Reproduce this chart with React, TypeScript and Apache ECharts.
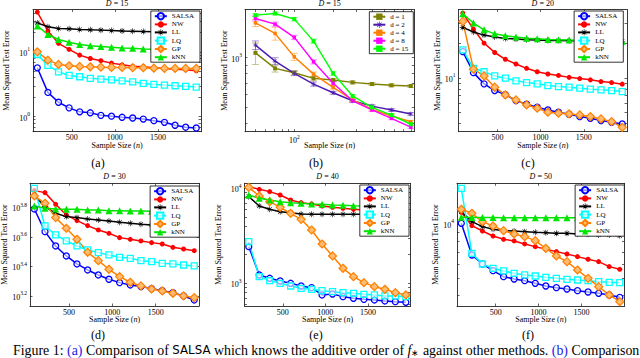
import { useEffect, useRef } from 'react';
import * as echarts from 'echarts';

const FONT = "'Liberation Serif', 'Times New Roman', serif";

// ---------------- data ----------------
const sampleSizes = [100, 223, 346, 469, 592, 715, 838, 961, 1084, 1207, 1330, 1453, 1576, 1699, 1822, 1945];
const methodNames = ['SALSA', 'NW', 'LL', 'LQ', 'GP', 'kNN'];

// (a) D = 15
const aSALSA = [5.67, 2.37, 1.67, 1.37, 1.19, 1.15, 1.05, 1.02, 0.98, 0.955, 0.92, 0.87, 0.82, 0.74, 0.69, 0.67];
const aNW = [41, 21, 13.5, 10.9, 8.9, 7.9, 7.3, 6.7, 6.3, 6.0, 5.9, 5.7, 5.55, 5.4, 5.3, 5.1];
const aLL = [27.9, 24.3, 22.9, 22.6, 22.1, 21.8, 21.6, 21.3, 21.0, 20.8, 20.6, 20.4, 20.3, 20.1, 20.0, 19.9];
const aLQ = [9.1, 6.18, 4.92, 4.33, 4.13, 3.9, 3.8, 3.7, 3.58, 3.45, 3.26, 3.15, 3.07, 3.0, 2.94, 2.86];
const aGP = [10.0, 7.45, 6.4, 6.1, 5.96, 5.88, 5.8, 5.75, 5.75, 5.68, 5.68, 5.6, 5.55, 5.55, 5.55, 5.55];
const aKNN = [25.1, 18.5, 15.5, 14.0, 13.0, 12.4, 12.1, 11.8, 11.5, 11.4, 11.1, 11.0, 10.9, 10.7, 10.7, 10.6];

// (b) D = 15, SALSA with different orders d
const bSizes = [50, 71, 100, 141, 200, 283, 400, 566, 800];
const bNames = ['d = 1', 'd = 2', 'd = 4', 'd = 8', 'd = 15'];
const bD1 = [1069, 860, 809, 748, 731, 707, 691, 679, 672];
const bD2 = [1191, 952, 802, 691, 612, 547, 508, 481, 455];
const bD4 = [1625, 1402, 1011, 794, 660, 553, 485, 442, 408];
const bD8 = [1728, 1596, 1326, 943, 698, 547, 481, 428, 378];
const bD15 = [1810, 1853, 1712, 1259, 802, 585, 499, 448, 394];
// relative half-widths of the error bars
const bErr1 = [0.15, 0.05, 0.03, 0.025, 0.02, 0.02, 0.02, 0.02, 0.02];
const bErr2 = [0.06, 0.05, 0.03, 0.03, 0.02, 0.02, 0.02, 0.02, 0.02];
const bErr4 = [0.05, 0.09, 0.05, 0.03, 0.025, 0.02, 0.02, 0.02, 0.02];
const bErr8 = [0.035, 0.03, 0.03, 0.03, 0.025, 0.02, 0.02, 0.02, 0.02];
const bErr15 = [0.02, 0.02, 0.025, 0.03, 0.03, 0.02, 0.02, 0.02, 0.02];

// (c) D = 20
const cSALSA = [16.9, 11.1, 8.87, 7.76, 7.16, 6.35, 5.91, 5.56, 5.27, 5.03, 4.83, 4.61, 4.46, 4.26, 4.12, 3.98];
const cNW = [36.5, 26.5, 20.0, 16.6, 14.5, 13.2, 12.1, 11.3, 10.8, 10.5, 10.1, 9.86, 9.61, 9.29, 9.1, 8.82];
const cLL = [27.4, 25.0, 23.5, 22.6, 22.0, 21.7, 21.4, 21.3, 21.1, 21.1, 21.0, 21.0, 20.9, 20.9, 20.8, 20.8];
const cLQ = [17.5, 12.1, 11.3, 10.4, 9.94, 9.42, 9.1, 8.87, 8.57, 8.4, 8.3, 8.14, 7.98, 7.87, 7.76, 7.6];
const cGP = [30.9, 11.9, 10.4, 8.3, 7.11, 6.44, 5.82, 5.45, 5.03, 4.93, 4.86, 4.77, 4.61, 4.4, 4.17, 3.72];
const cKNN = [36.0, 29.9, 26.1, 24.1, 23.2, 22.6, 22.1, 21.8, 21.5, 21.4, 21.3, 21.1, 21.0, 20.9, 20.9, 20.8];

// (d) D = 30
const dSALSA = [6148, 4318, 3454, 2956, 2609, 2376, 2198, 2055, 1951, 1881, 1833, 1777, 1722, 1669, 1585, 1489];
const dNW = [8180, 7930, 6612, 5600, 5127, 4742, 4433, 4207, 3933, 3832, 3734, 3638, 3563, 3382, 3296, 3209];
const dLL = [7568, 6375, 5747, 5456, 5373, 5260, 5180, 5100, 4995, 4918, 4842, 4791, 4741, 4718, 4669, 4646];
const dLQ = [8484, 4718, 4100, 3734, 3454, 3246, 3113, 3002, 2895, 2850, 2748, 2706, 2636, 2609, 2568, 2529];
const dGP = [7528, 6716, 5373, 4550, 3832, 3130, 2748, 2401, 2142, 1961, 1852, 1767, 1713, 1652, 1585, 1544];
const dKNN = [6442, 6210, 6148, 6115, 6115, 6053, 6053, 5989, 5989, 5958, 5958, 5927, 5927, 5900, 5900, 5880];

// (e) D = 40
const eSALSA = [2432, 1224, 1129, 1058, 1000, 937, 900, 754, 772, 724, 695, 678, 668, 652, 641, 631];
const eNW = [10411, 9761, 9225, 8508, 7539, 7066, 6842, 6517, 6310, 6159, 6011, 5915, 5850, 5800, 5750, 5700];
const eLL = [8171, 6517, 6011, 5680, 5545, 5369, 5324, 5324, 5324, 5324, 5324, 5324, 5300, 5300, 5300, 5300];
const eLQ = [2745, 1175, 1067, 1000, 937, 886, 865, 837, 817, 797, 785, 766, 754, 736, 736, 724];
const eGP = [10245, 8304, 7238, 6310, 5456, 4718, 3642, 2594, 1940, 1439, 1175, 1016, 922, 865, 797, 754];
const eKNN = [8508, 7846, 7539, 7238, 7066, 6952, 6842, 6787, 6677, 6624, 6570, 6517, 6500, 6480, 6460, 6450];

// (f) D = 50
const fSALSA = [10085, 6725, 5995, 5505, 5098, 4948, 4843, 4682, 4525, 4430, 4355, 4263, 4191, 4120, 4033, 3914];
const fNW = [11610, 9789, 9143, 8577, 8219, 8047, 7744, 7484, 7234, 7022, 6814, 6585, 6366, 6178, 5794, 5600];
const fLL = [11708, 10303, 9665, 9341, 9183, 9143, 9066, 8988, 8950, 8873, 8873, 8798, 8761, 8687, 8687, 8613];
const fLQ = [15783, 6871, 5995, 5672, 5483, 5321, 5209, 5142, 5055, 4991, 4927, 4885, 4843, 4781, 4741, 4721];
const fGP = [12063, 11463, 10303, 9748, 9183, 8798, 8503, 8078, 7324, 6641, 6178, 5552, 4991, 4487, 4033, 3703];
const fKNN = [10900, 10870, 10850, 10850, 10840, 10840, 10840, 10830, 10830, 10830, 10830, 10820, 10820, 10820, 10820, 10820];

// tick labels
const panelTitleD = ['15', '15', '20', '30', '40', '50'];
const panelLetters = ['(a)', '(b)', '(c)', '(d)', '(e)', '(f)'];
const linearTickValues = [500, 1000, 1500];
const yLabelExponents = [[0, 1], [3], [1], [3.2, 3.4, 3.6, 3.8], [3, 4], [4]];
const bXLabelExponents = [2];

// ---------------- layout / styles ----------------
const layout = [
  { left: 33, top: 9.5, width: 168, height: 122.2, yMin: 0.588, yMax: 44.9, legRight: 440, legTop: 11 },
  { left: 245, top: 9.5, width: 169.3, height: 122.2, yMin: 355, yMax: 1959, legRight: 226.7, legTop: 11.7 },
  { left: 458.5, top: 9.5, width: 168.5, height: 122.2, yMin: 3.41, yMax: 39.2, legRight: 16.7, legTop: 11 },
  { left: 30, top: 183.3, width: 169, height: 122.7, yMin: 1355, yMax: 9171, legRight: 440.7, legTop: 186 },
  { left: 244.5, top: 183.3, width: 166, height: 122.7, yMin: 577, yMax: 11290, legRight: 231, legTop: 185 },
  { left: 457, top: 183.3, width: 167.5, height: 122.7, yMin: 3503, yMax: 16820, legRight: 15.7, legTop: 185 },
];
const xLinRange = [50, 2000];
const bXRange = [41.5, 851];
const yLabelX = [6.7, 224, 437.7, 4, 218.3, 435.7];
const letterX = [98, 316, 528];
const letterY = [163, 335];

const STAR = 'path://M11,2H13V22H11Z M2,11H22V13H2Z M5.7,4.3L19.7,18.3L18.3,19.7L4.3,5.7Z M19.7,5.7L5.7,19.7L4.3,18.3L18.3,4.3Z';
const methodStyles = [
  { color: '#0000ff', symbol: 'circle', size: 6, fill: 'rgba(255,255,255,0.6)', bw: 1.3 },
  { color: '#ff0000', symbol: 'circle', size: 5, fill: '#ff0000', bw: 0 },
  { color: '#000000', symbol: STAR, size: 6, fill: '#000000', bw: 0 },
  { color: '#00ffff', symbol: 'rect', size: 6, fill: 'rgba(255,255,255,0.6)', bw: 1.3 },
  { color: '#ff8000', symbol: 'diamond', size: 8, fill: '#ffbb70', bw: 1.2 },
  { color: '#00e600', symbol: 'triangle', size: 7, fill: '#00e600', bw: 0 },
];
const bStyles = [
  { color: '#808000', symbol: 'rect', size: 4 },
  { color: '#4b1bb0', symbol: STAR, size: 5 },
  { color: '#ff7f00', symbol: 'rect', size: 3.5 },
  { color: '#ff00ff', symbol: 'rect', size: 3.5 },
  { color: '#00ff00', symbol: 'rect', size: 4 },
];

function logTicks(min: number, max: number) {
  const out: number[] = [];
  for (let k = Math.floor(Math.log10(min)); k <= Math.ceil(Math.log10(max)); k++) {
    for (let m = 1; m <= 9; m++) {
      const v = m * Math.pow(10, k);
      if (v >= min && v <= max) out.push(v);
    }
  }
  return out;
}

function logLabel(v: number) {
  const e = Math.round(Math.log10(v) * 10) / 10;
  const s = Number.isInteger(e) ? String(e) : e.toFixed(1);
  return '{b|10}{s|' + s + '}';
}

const supRich = {
  b: { fontFamily: FONT, fontSize: 8, lineHeight: 11, verticalAlign: 'bottom', color: '#000' },
  s: { fontFamily: FONT, fontSize: 5.5, lineHeight: 6, verticalAlign: 'top', color: '#000' },
};

function makeLegend(L: any, names: string[], padding: number[]) {
  return {
    show: true,
    orient: 'vertical',
    right: L.legRight,
    top: L.legTop,
    data: names,
    selectedMode: false,
    itemWidth: 12,
    itemHeight: 8,
    itemGap: 0,
    padding,
    backgroundColor: '#fff',
    borderColor: '#000',
    borderWidth: 0.8,
    borderRadius: 0,
    textStyle: { fontFamily: FONT, fontSize: 7, color: '#000', lineHeight: 8 },
  };
}

function buildOption() {
  const panelData = [
    [aSALSA, aNW, aLL, aLQ, aGP, aKNN],
    null,
    [cSALSA, cNW, cLL, cLQ, cGP, cKNN],
    [dSALSA, dNW, dLL, dLQ, dGP, dKNN],
    [eSALSA, eNW, eLL, eLQ, eGP, eKNN],
    [fSALSA, fNW, fLL, fLQ, fGP, fKNN],
  ];
  const grids: any[] = [];
  const xAxes: any[] = [];
  const yAxes: any[] = [];
  const series: any[] = [];
  const legends: any[] = [];
  const graphics: any[] = [];

  layout.forEach((L, i) => {
    grids.push({ left: L.left, top: L.top, width: L.width, height: L.height, containLabel: false, outerBoundsMode: 'none', show: false });
    const isB = i === 1;
    const yLabels = yLabelExponents[i].map((e) => Math.pow(10, e));
    const yTicks = i === 3 ? yLabels : logTicks(L.yMin, L.yMax);
    const xTicks = isB ? logTicks(bXRange[0], bXRange[1]) : linearTickValues;
    const xLabels = isB ? bXLabelExponents.map((e) => Math.pow(10, e)) : linearTickValues;
    for (const mirror of [false, true]) {
      const common = {
        gridIndex: i,
        axisLine: { show: true, onZero: false, lineStyle: { color: '#222', width: 0.9 } },
        splitLine: { show: false },
        minorTick: { show: false },
        minorSplitLine: { show: false },
      };
      xAxes.push({
        ...common,
        type: isB ? 'log' : 'value',
        logBase: 10,
        position: mirror ? 'top' : 'bottom',
        min: isB ? bXRange[0] : xLinRange[0],
        max: isB ? bXRange[1] : xLinRange[1],
        axisTick: { show: true, inside: true, length: 2.5, customValues: xTicks, lineStyle: { color: '#222', width: 0.7 } },
        axisLabel: {
          show: !mirror,
          customValues: xLabels,
          margin: 2,
          fontFamily: FONT,
          fontSize: 8,
          color: '#000',
          formatter: isB ? (v: number) => logLabel(v) : (v: number) => String(v),
          rich: supRich,
        },
      });
      yAxes.push({
        ...common,
        type: 'log',
        logBase: 10,
        position: mirror ? 'right' : 'left',
        min: L.yMin,
        max: L.yMax,
        axisTick: { show: true, inside: true, length: 2.5, customValues: yTicks, lineStyle: { color: '#222', width: 0.7 } },
        axisLabel: {
          show: !mirror,
          customValues: yLabels,
          margin: 3,
          fontFamily: FONT,
          fontSize: 8,
          color: '#000',
          formatter: (v: number) => logLabel(v),
          rich: supRich,
        },
      });
    }

    if (isB) {
      const vals = [bD1, bD2, bD4, bD8, bD15];
      const errs = [bErr1, bErr2, bErr4, bErr8, bErr15];
      vals.forEach((v, k) => {
        const st = bStyles[k];
        series.push({
          type: 'custom',
          name: 'err ' + bNames[k],
          xAxisIndex: 2 * i,
          yAxisIndex: 2 * i,
          silent: true,
          z: 1,
          encode: { x: 0, y: [1, 2] },
          data: bSizes.map((x, j) => [x, v[j] * (1 - errs[k][j]), v[j] * (1 + errs[k][j])]),
          renderItem: (_p: any, api: any) => {
            const x = api.value(0);
            const lo = api.coord([x, api.value(1)]);
            const hi = api.coord([x, api.value(2)]);
            const c = 3.5;
            const s = { stroke: st.color, lineWidth: 1, opacity: 0.45 };
            return {
              type: 'group',
              children: [
                { type: 'line', shape: { x1: lo[0], y1: lo[1], x2: hi[0], y2: hi[1] }, style: s },
                { type: 'line', shape: { x1: lo[0] - c, y1: lo[1], x2: lo[0] + c, y2: lo[1] }, style: s },
                { type: 'line', shape: { x1: hi[0] - c, y1: hi[1], x2: hi[0] + c, y2: hi[1] }, style: s },
              ],
            };
          },
        });
        series.push({
          type: 'line',
          name: bNames[k],
          xAxisIndex: 2 * i,
          yAxisIndex: 2 * i,
          z: 3,
          data: bSizes.map((x, j) => [x, v[j]]),
          symbol: st.symbol,
          symbolSize: st.size,
          lineStyle: { color: st.color, width: 1.4 },
          itemStyle: { color: st.color },
        });
      });
      legends.push(makeLegend(L, bNames, [1, 5, 1, 3]));
    } else {
      const data = panelData[i] as number[][];
      data.forEach((v, k) => {
        const st = methodStyles[k];
        series.push({
          type: 'line',
          name: methodNames[k],
          xAxisIndex: 2 * i,
          yAxisIndex: 2 * i,
          z: 3,
          data: sampleSizes.map((x, j) => [x, v[j]]),
          symbol: st.symbol,
          symbolSize: st.size,
          lineStyle: { color: st.color, width: 1.5 },
          itemStyle: { color: st.fill, borderColor: st.color, borderWidth: st.bw },
        });
      });
      legends.push(makeLegend(L, methodNames, [1, 6, 1, 3]));
    }

    // texts
    const cx = L.left + L.width / 2;
    const bottom = L.top + L.height;
    graphics.push({
      type: 'text',
      x: cx,
      y: L.top - 6.5,
      style: {
        text: '{i|D} = ' + panelTitleD[i],
        fontFamily: FONT,
        fontSize: 8,
        fill: '#000',
        align: 'center',
        verticalAlign: 'middle',
        rich: { i: { fontFamily: FONT, fontSize: 8, fontStyle: 'italic', fill: '#000' } },
      },
    });
    graphics.push({
      type: 'text',
      x: cx,
      y: bottom + 13.5,
      style: {
        text: 'Sample Size ({i|n})',
        fontFamily: FONT,
        fontSize: 8,
        fill: '#000',
        align: 'center',
        verticalAlign: 'middle',
        rich: { i: { fontFamily: FONT, fontSize: 8, fontStyle: 'italic', fill: '#000' } },
      },
    });
    graphics.push({
      type: 'text',
      x: yLabelX[i],
      y: L.top + L.height / 2,
      rotation: Math.PI / 2,
      style: { text: 'Mean Squared Test Error', fontFamily: FONT, fontSize: 8, fill: '#000', align: 'center', verticalAlign: 'middle' },
    });
    graphics.push({
      type: 'text',
      x: letterX[i % 3],
      y: letterY[i < 3 ? 0 : 1],
      style: { text: panelLetters[i], fontFamily: FONT, fontSize: 12, fill: '#000', align: 'center', verticalAlign: 'middle' },
    });
  });

  graphics.push({
    type: 'text',
    x: 13,
    y: 350,
    style: {
      text: 'Figure 1: {l|(a)} Comparison of {sf|SALSA} which knows the additive order of {it|f}{sub|∗} against other methods. {l|(b)} Comparison',
      fontFamily: FONT,
      fontSize: 13.9,
      fill: '#000',
      align: 'left',
      verticalAlign: 'middle',
      rich: {
        l: { fontFamily: FONT, fontSize: 13.9, fill: '#1a1ae6' },
        sf: { fontFamily: "'DejaVu Sans', sans-serif", fontSize: 11.8, fill: '#000' },
        it: { fontFamily: FONT, fontSize: 13.9, fontStyle: 'italic', fill: '#000' },
        sub: { fontFamily: FONT, fontSize: 8.5, fill: '#000', verticalAlign: 'bottom' },
      },
    },
  });

  return {
    animation: false,
    backgroundColor: '#fff',
    grid: grids,
    xAxis: xAxes,
    yAxis: yAxes,
    legend: legends,
    series,
    graphic: { elements: graphics },
  };
}

export default function App() {
  const ref = useRef<HTMLDivElement>(null);
  useEffect(() => {
    document.body.style.margin = '0';
    if (!ref.current) return;
    const chart = echarts.init(ref.current, undefined, { renderer: 'svg' });
    chart.setOption(buildOption() as any);
    return () => chart.dispose();
  }, []);
  return <div ref={ref} style={{ width: 640, height: 358, background: '#fff' }} />;
}
